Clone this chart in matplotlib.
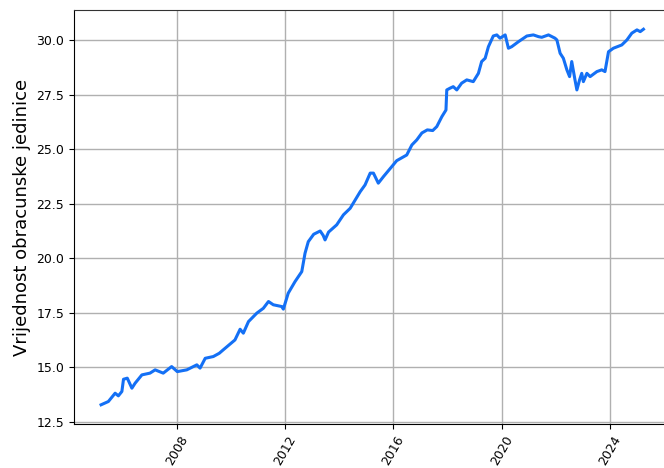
import numpy as np
import pandas as pd
import matplotlib
matplotlib.use("Agg")
import matplotlib.pyplot as plt
import matplotlib.dates as mdates

# decimal-year positions and values
years = [2005.19, 2005.46, 2005.71, 2005.83, 2005.96, 2006.02, 2006.16, 2006.33, 2006.45,
         2006.70, 2007.00, 2007.19, 2007.49, 2007.80, 2008.01, 2008.36, 2008.73, 2008.85,
         2009.04, 2009.34, 2009.56, 2009.71, 2010.14, 2010.33, 2010.45, 2010.64, 2010.95,
         2011.19, 2011.38, 2011.56, 2011.87, 2011.93, 2012.11, 2012.36, 2012.61, 2012.73,
         2012.85, 2013.05, 2013.29, 2013.40, 2013.47, 2013.60, 2013.90, 2014.15, 2014.40,
         2014.77, 2014.95, 2015.14, 2015.26, 2015.44, 2015.63, 2015.94, 2016.12, 2016.49,
         2016.68, 2016.86, 2017.05, 2017.25, 2017.45, 2017.60, 2017.79, 2017.94, 2017.97,
         2018.09, 2018.21, 2018.34, 2018.52, 2018.71, 2018.95, 2019.14, 2019.26, 2019.39,
         2019.51, 2019.69, 2019.82, 2019.94, 2020.13, 2020.25, 2020.37, 2020.62, 2020.93,
         2021.17, 2021.36, 2021.48, 2021.73, 2021.97, 2022.04, 2022.16, 2022.28, 2022.41,
         2022.51, 2022.59, 2022.71, 2022.78, 2022.88, 2022.96, 2023.02, 2023.15, 2023.27,
         2023.52, 2023.70, 2023.82, 2023.95, 2024.13, 2024.44, 2024.63, 2024.81, 2025.00,
         2025.12, 2025.24]
values = [13.29, 13.44, 13.82, 13.70, 13.90, 14.46, 14.51, 14.05, 14.28,
          14.66, 14.74, 14.89, 14.74, 15.04, 14.81, 14.89, 15.12, 14.97,
          15.42, 15.50, 15.65, 15.81, 16.26, 16.75, 16.57, 17.10, 17.49,
          17.71, 18.02, 17.87, 17.79, 17.67, 18.40, 18.93, 19.39, 20.23,
          20.76, 21.10, 21.25, 21.05, 20.84, 21.20, 21.53, 21.99, 22.29,
          23.05, 23.36, 23.90, 23.90, 23.44, 23.74, 24.20, 24.47, 24.73,
          25.19, 25.42, 25.74, 25.88, 25.85, 26.03, 26.49, 26.79, 27.71,
          27.79, 27.86, 27.71, 28.02, 28.17, 28.09, 28.47, 29.01, 29.16,
          29.69, 30.18, 30.23, 30.08, 30.23, 29.62, 29.69, 29.92, 30.18,
          30.23, 30.15, 30.12, 30.23, 30.08, 30.00, 29.39, 29.16, 28.63,
          28.32, 29.01, 28.17, 27.71, 28.17, 28.47, 28.09, 28.47, 28.32,
          28.55, 28.63, 28.55, 29.46, 29.62, 29.77, 30.00, 30.31, 30.46,
          30.38, 30.49]
ylabel = "Vrijednost obracunske jedinice"


def dec_to_date(y):
    yr = int(np.floor(y))
    start = pd.Timestamp(year=yr, month=1, day=1)
    end = pd.Timestamp(year=yr + 1, month=1, day=1)
    return start + (end - start) * (y - yr)


dates = [dec_to_date(y) for y in years]

fig = plt.figure(figsize=(6.64, 4.68), dpi=100)
ax = fig.add_axes([0.1114, 0.094, 0.8886, 0.8846])
ax.plot(dates, values, color="#1470f5", lw=2.2, zorder=3)

ax.set_xlim(dec_to_date(2004.19), dec_to_date(2026.0))
ax.set_ylim(12.41, 31.37)
ax.set_yticks([12.5, 15.0, 17.5, 20.0, 22.5, 25.0, 27.5, 30.0])
ax.xaxis.set_major_locator(mdates.YearLocator(4))
ax.xaxis.set_major_formatter(mdates.DateFormatter("%Y"))
plt.setp(ax.get_xticklabels(), rotation=60, fontsize=9)
plt.setp(ax.get_yticklabels(), fontsize=9)
ax.grid(True, color="#b0b0b0", lw=1.0)
ax.set_axisbelow(True)
ax.set_ylabel(ylabel, fontsize=13)
ax.spines["right"].set_visible(False)
ax.spines["top"].set_color("#333333")
ax.tick_params(direction="out")

fig.savefig("out.png", dpi=100)
